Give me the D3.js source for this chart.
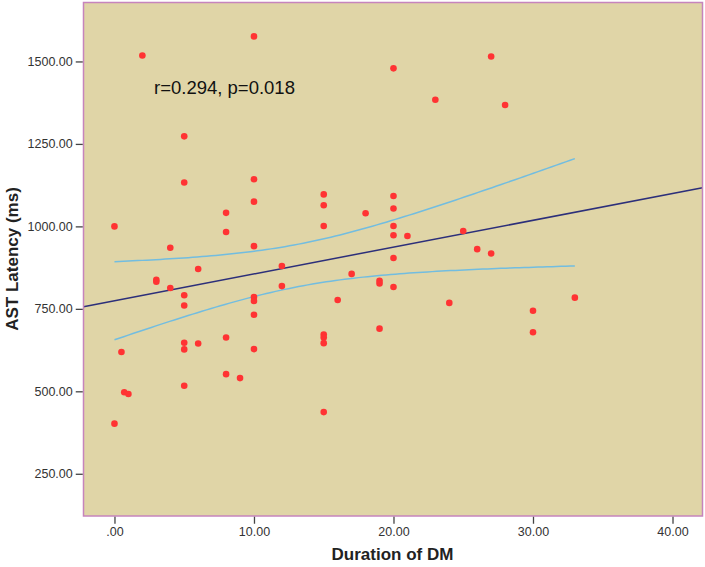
<!DOCTYPE html>
<html>
<head>
<meta charset="utf-8">
<script src="https://cdn.jsdelivr.net/npm/d3@7"></script>
<style>
  body { margin: 0; background: #fff; }
  text { font-family: "Liberation Sans", Arial, sans-serif; }
</style>
</head>
<body>
<div id="chart"></div>
<script>
// duration of DM (years) and AST latency (ms)
var durationDM = [0, 0, 0.5, 0.7, 1, 2, 3, 3, 4, 4,
	5, 5, 5, 5, 5, 5, 5, 6, 6, 8,
	8, 8, 8, 9, 10, 10, 10, 10, 10, 10,
	10, 10, 12, 12, 15, 15, 15, 15, 15, 15,
	15, 16, 17, 18, 19, 19, 19, 20, 20, 20,
	20, 20, 20, 20, 21, 23, 24, 25, 26, 27,
	27, 28, 30, 30, 33];
var astLatency = [1000, 402, 619, 497, 492, 1518, 838, 832, 935, 813,
	1273, 1133, 791, 760, 647, 627, 517, 871, 645, 1041,
	983, 663, 552, 540, 1576, 1143, 1075, 940, 786, 774,
	732, 628, 880, 819, 1097, 1064, 1001, 672, 663, 646,
	437, 777, 856, 1040, 835, 827, 690, 1479, 1092, 1054,
	1001, 973, 904, 816, 971, 1384, 768, 986, 931, 1515,
	918, 1368, 744, 679, 784];

var xTicks = [0, 10, 20, 30, 40];
var yTicks = [250, 500, 750, 1000, 1250, 1500];
var annotation = 'r=0.294, p=0.018';
var xTitle = 'Duration of DM';
var yTitle = 'AST Latency (ms)';

var width = 705, height = 567;
var margin = {top: 2.5, right: 2.5, bottom: 51, left: 83.5};
var plotW = width - margin.left - margin.right;
var plotH = height - margin.top - margin.bottom;

var svg = d3.select('#chart').append('svg')
	.attr('width', width)
	.attr('height', height);

var x = d3.scaleLinear().domain([-2.22, 42.15]).range([0, plotW]);
var y = d3.scaleLinear().domain([122, 1678.7]).range([plotH, 0]);

var g = svg.append('g')
	.attr('transform', 'translate(' + margin.left + ',' + margin.top + ')');

g.append('rect')
	.attr('width', plotW)
	.attr('height', plotH)
	.attr('fill', '#e0d5a7');

// least squares fit + 95% CI of the mean, as SPSS draws it
var data = durationDM.map(function(d, i) { return {x: d, y: astLatency[i]}; });
var n = data.length;
var mx = d3.mean(data, function(d) { return d.x; });
var my = d3.mean(data, function(d) { return d.y; });
var sxx = d3.sum(data, function(d) { return (d.x - mx) * (d.x - mx); });
var sxy = d3.sum(data, function(d) { return (d.x - mx) * (d.y - my); });
var slope = sxy / sxx;
var icpt = my - slope * mx;
var sse = d3.sum(data, function(d) { var r = d.y - (icpt + slope * d.x); return r * r; });
var se = Math.sqrt(sse / (n - 2));
var tcrit = 1.998;

var xmin = d3.min(durationDM), xmax = d3.max(durationDM);
var ciX = d3.range(0, 101).map(function(i) { return xmin + (xmax - xmin) * i / 100; });
function half(xv) { return tcrit * se * Math.sqrt(1 / n + (xv - mx) * (xv - mx) / sxx); }

var clip = g.append('clipPath').attr('id', 'clip')
	.append('rect').attr('width', plotW).attr('height', plotH);

var lines = g.append('g').attr('clip-path', 'url(#clip)');

var ciLine = d3.line()
	.x(function(d) { return x(d[0]); })
	.y(function(d) { return y(d[1]); });

lines.append('path')
	.datum(ciX.map(function(v) { return [v, icpt + slope * v + half(v)]; }))
	.attr('fill', 'none')
	.attr('stroke', '#72bde0')
	.attr('stroke-width', 1.5)
	.attr('d', ciLine);

lines.append('path')
	.datum(ciX.map(function(v) { return [v, icpt + slope * v - half(v)]; }))
	.attr('fill', 'none')
	.attr('stroke', '#72bde0')
	.attr('stroke-width', 1.5)
	.attr('d', ciLine);

var xd = x.domain();
lines.append('line')
	.attr('x1', x(xd[0])).attr('y1', y(icpt + slope * xd[0]))
	.attr('x2', x(xd[1])).attr('y2', y(icpt + slope * xd[1]))
	.attr('stroke', '#2c2f7a')
	.attr('stroke-width', 1.5);

g.selectAll('.dot')
	.data(data)
	.enter().append('circle')
	.attr('class', 'dot')
	.attr('cx', function(d) { return x(d.x); })
	.attr('cy', function(d) { return y(d.y); })
	.attr('r', 3.3)
	.attr('fill', '#ff3333');

g.append('rect')
	.attr('width', plotW)
	.attr('height', plotH)
	.attr('fill', 'none')
	.attr('stroke', '#c684bd')
	.attr('stroke-width', 1.5);

var fmt = d3.format('.2f');
var xAxis = d3.axisBottom(x)
	.tickValues(xTicks)
	.tickSize(7)
	.tickPadding(3)
	.tickFormat(function(d) { return d === 0 ? '.00' : fmt(d); });
var yAxis = d3.axisLeft(y)
	.tickValues(yTicks)
	.tickSize(7)
	.tickPadding(3)
	.tickFormat(fmt);

var gx = g.append('g')
	.attr('transform', 'translate(0,' + (plotH + 0.75) + ')')
	.call(xAxis);
var gy = g.append('g')
	.attr('transform', 'translate(-0.75,0)')
	.call(yAxis);

[gx, gy].forEach(function(ax) {
	ax.select('.domain').remove();
	ax.selectAll('line').attr('stroke', '#444').attr('stroke-width', 1.3);
	ax.selectAll('text')
		.attr('fill', '#333')
		.style('font-size', '12.5px')
		.style('font-family', '"Liberation Sans", Arial, sans-serif');
});

g.append('text')
	.attr('x', 154 - margin.left)
	.attr('y', 93.5 - margin.top)
	.attr('fill', '#111')
	.style('font-size', '18.5px')
	.text(annotation);

svg.append('text')
	.attr('x', 392.5)
	.attr('y', 560)
	.attr('text-anchor', 'middle')
	.attr('fill', '#222')
	.style('font-size', '17px')
	.style('font-weight', 'bold')
	.text(xTitle);

svg.append('text')
	.attr('transform', 'translate(18,259) rotate(-90)')
	.attr('text-anchor', 'middle')
	.attr('fill', '#222')
	.style('font-size', '17px')
	.style('font-weight', 'bold')
	.text(yTitle);
</script>
</body>
</html>
